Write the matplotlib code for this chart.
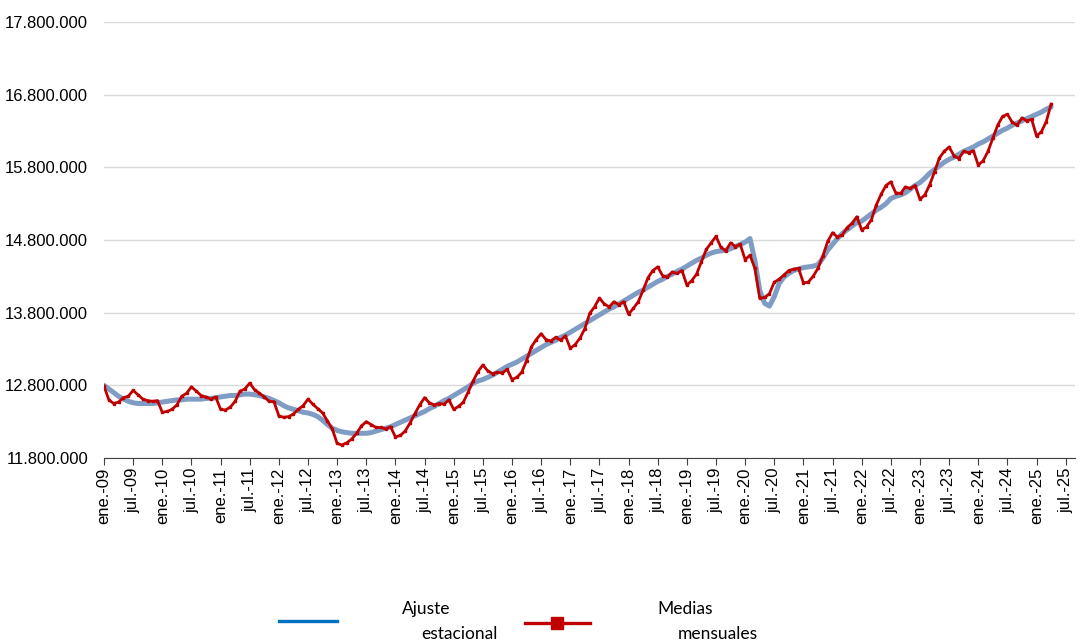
import numpy as np
import matplotlib.pyplot as plt
from matplotlib.lines import Line2D
from matplotlib.ticker import FuncFormatter

# Afiliados, medias mensuales (millones), ene.-09 .. abr.-25
medias = [
    12.79, 12.60, 12.55, 12.57, 12.63, 12.65, 12.73, 12.67, 12.61, 12.59, 12.58, 12.59,  # 2009
    12.43, 12.44, 12.47, 12.53, 12.65, 12.69, 12.78, 12.72, 12.66, 12.64, 12.61, 12.64,  # 2010
    12.47, 12.46, 12.50, 12.58, 12.72, 12.75, 12.83, 12.74, 12.69, 12.64, 12.58, 12.575,  # 2011
    12.38, 12.36, 12.37, 12.405, 12.47, 12.52, 12.61, 12.54, 12.48, 12.42, 12.31, 12.20,  # 2012
    12.00, 11.98, 12.01, 12.06, 12.14, 12.24, 12.30, 12.26, 12.22, 12.22, 12.20, 12.23,  # 2013
    12.09, 12.11, 12.17, 12.28, 12.41, 12.53, 12.63, 12.56, 12.53, 12.55, 12.54, 12.60,  # 2014
    12.47, 12.51, 12.57, 12.71, 12.86, 12.99, 13.08, 13.00, 12.96, 12.98, 12.97, 13.02,  # 2015
    12.88, 12.91, 12.98, 13.14, 13.33, 13.43, 13.51, 13.43, 13.41, 13.46, 13.42, 13.48,  # 2016
    13.31, 13.36, 13.45, 13.58, 13.79, 13.88, 14.00, 13.92, 13.88, 13.95, 13.91, 13.95,  # 2017
    13.78, 13.86, 13.95, 14.11, 14.28, 14.38, 14.43, 14.31, 14.29, 14.36, 14.34, 14.38,  # 2018
    14.18, 14.24, 14.33, 14.50, 14.67, 14.76, 14.85, 14.70, 14.65, 14.76, 14.71, 14.74,  # 2019
    14.53, 14.59, 14.41, 14.00, 14.01, 14.06, 14.22, 14.26, 14.32, 14.38, 14.40, 14.41,  # 2020
    14.21, 14.22, 14.30, 14.41, 14.58, 14.78, 14.90, 14.84, 14.87, 14.97, 15.03, 15.12,  # 2021
    14.94, 14.98, 15.08, 15.28, 15.43, 15.55, 15.60, 15.45, 15.44, 15.53, 15.51, 15.55,  # 2022
    15.36, 15.42, 15.56, 15.74, 15.93, 16.02, 16.08, 15.96, 15.92, 16.02, 16.00, 16.03,  # 2023
    15.83, 15.89, 16.02, 16.20, 16.38, 16.50, 16.53, 16.42, 16.38, 16.48, 16.44, 16.46,  # 2024
    16.23, 16.29, 16.43, 16.67,  # 2025
]

# Serie con ajuste estacional (millones)
ajuste = [
    12.80, 12.75, 12.70, 12.65, 12.61, 12.58, 12.56, 12.55, 12.55, 12.55, 12.55, 12.56,  # 2009
    12.57, 12.58, 12.59, 12.60, 12.60, 12.61, 12.61, 12.61, 12.61, 12.62, 12.62, 12.63,  # 2010
    12.64, 12.65, 12.66, 12.66, 12.67, 12.68, 12.68, 12.67, 12.66, 12.64, 12.62, 12.59,  # 2011
    12.56, 12.52, 12.49, 12.47, 12.45, 12.43, 12.42, 12.40, 12.37, 12.32, 12.26, 12.21,  # 2012
    12.18, 12.16, 12.15, 12.14, 12.14, 12.14, 12.14, 12.15, 12.17, 12.19, 12.21, 12.23,  # 2013
    12.26, 12.29, 12.32, 12.35, 12.38, 12.41, 12.44, 12.48, 12.51, 12.55, 12.59, 12.62,  # 2014
    12.66, 12.70, 12.74, 12.78, 12.83, 12.86, 12.88, 12.91, 12.94, 12.98, 13.02, 13.06,  # 2015
    13.09, 13.12, 13.16, 13.20, 13.24, 13.28, 13.32, 13.36, 13.39, 13.42, 13.46, 13.49,  # 2016
    13.53, 13.57, 13.61, 13.65, 13.69, 13.73, 13.77, 13.81, 13.85, 13.88, 13.92, 13.96,  # 2017
    14.00, 14.04, 14.08, 14.11, 14.15, 14.19, 14.23, 14.26, 14.30, 14.33, 14.37, 14.40,  # 2018
    14.44, 14.48, 14.52, 14.55, 14.59, 14.62, 14.64, 14.65, 14.66, 14.68, 14.71, 14.74,  # 2019
    14.77, 14.82, 14.52, 14.11, 13.93, 13.89, 14.02, 14.20, 14.29, 14.34, 14.38, 14.40,  # 2020
    14.42, 14.43, 14.44, 14.46, 14.55, 14.66, 14.74, 14.82, 14.89, 14.94, 14.99, 15.04,  # 2021
    15.06, 15.11, 15.16, 15.21, 15.25, 15.30, 15.37, 15.40, 15.42, 15.45, 15.50, 15.55,  # 2022
    15.59, 15.65, 15.72, 15.77, 15.82, 15.87, 15.91, 15.94, 15.98, 16.02, 16.05, 16.08,  # 2023
    16.12, 16.15, 16.19, 16.23, 16.27, 16.31, 16.34, 16.38, 16.41, 16.44, 16.47, 16.50,  # 2024
    16.53, 16.56, 16.60, 16.63,  # 2025
]

# etiquetas del eje x cada 6 meses
etiquetas = []
for i in range(0, 199, 6):
    mes = 'ene.' if i % 12 == 0 else 'jul.'
    etiquetas.append(f'{mes}-{(9 + i // 12):02d}')

x = np.arange(len(medias))

plt.rcParams['font.family'] = ['Liberation Sans', 'DejaVu Sans']

fig = plt.figure(figsize=(10.9, 6.44), dpi=100)
ax = fig.add_axes([104 / 1090, 186 / 644, 971.4 / 1090, 436 / 644])

ax.plot(x, ajuste, color='#7f9cc4', lw=3.6, solid_capstyle='round', zorder=2)
ax.plot(x, medias, color='#c00000', lw=2.0, marker='s', ms=1.6, zorder=3)

ax.set_xlim(0, 200)
ax.set_ylim(11.8, 17.8)
ax.set_yticks(np.arange(11.8, 17.81, 1.0))
ax.yaxis.set_major_formatter(
    FuncFormatter(lambda v, p: f'{round(v * 1e6):,}'.replace(',', '.')))
ax.set_xticks(np.arange(0, 199, 6))
ax.set_xticklabels(etiquetas, rotation=90, fontsize=12)

ax.grid(axis='y', color='#d9d9d9', lw=1)
ax.set_axisbelow(True)
for s in ['top', 'right', 'left']:
    ax.spines[s].set_visible(False)
ax.spines['bottom'].set_color('#404040')
ax.tick_params(axis='y', length=0, labelsize=12, pad=11.5)
ax.tick_params(axis='x', length=5, color='#404040', pad=2)

# leyenda inferior
fig.add_artist(Line2D([279 / 1090, 337 / 1090], [0.0357, 0.0357],
                      color='#0070c0', lw=2.4, transform=fig.transFigure))
fig.add_artist(Line2D([525 / 1090, 590 / 1090], [0.0326, 0.0326],
                      color='#c00000', lw=2.4, transform=fig.transFigure))
fig.add_artist(Line2D([557 / 1090], [0.0326], color='#c00000', marker='s',
                      ms=8, transform=fig.transFigure))
ley = dict(fontsize=12.5, family=['Lato', 'DejaVu Sans'], va='center')
fig.text(402 / 1090, 0.0543, 'Ajuste', **ley)
fig.text(421 / 1090, 0.0155, 'estacional', **ley)
fig.text(657 / 1090, 0.0543, 'Medias', **ley)
fig.text(678 / 1090, 0.0155, 'mensuales', **ley)

fig.savefig('out.png', dpi=100)
